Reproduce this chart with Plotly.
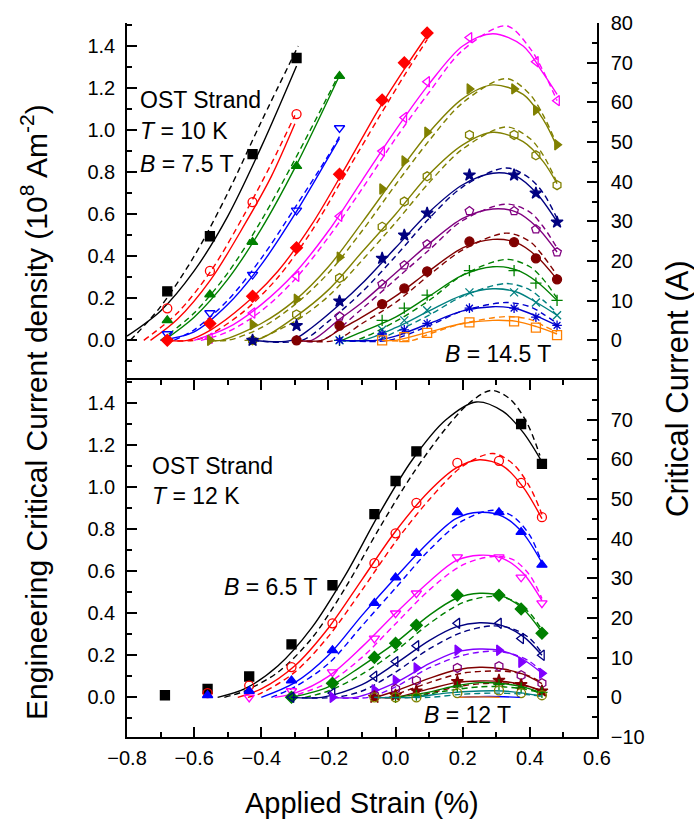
import plotly.graph_objects as go

N = None

# ---------------- T = 10 K (upper panel) ----------------
top_fields = ["7.5", "8.0", "8.5", "9.0", "9.5", "10.0", "10.5", "11.0",
              "11.5", "12.0", "12.5", "13.0", "13.5", "14.0", "14.5"]
top_strain = [-0.68, -0.553, -0.426, -0.295, -0.167, -0.04, 0.026, 0.094,
              0.22, 0.353, 0.418, 0.481]
top_jc = [
    [0.233, 0.495, 0.886, 1.343, N, N, N, N, N, N, N, N],
    [0.152, 0.33, 0.657, 1.076, N, N, N, N, N, N, N, N],
    [0.095, 0.218, 0.467, 0.829, 1.257, N, N, N, N, N, N, N],
    [0.03, 0.13, 0.313, 0.618, 1.01, N, N, N, N, N, N, N],
    [0.0, 0.08, 0.21, 0.44, 0.79, 1.143, 1.32, 1.462, N, N, N, N],
    [N, 0.01, 0.13, 0.305, 0.59, 0.90, 1.06, 1.23, 1.44, N, 1.325, 1.14],
    [N, 0.0, 0.075, 0.195, 0.395, 0.72, 0.853, 0.99, 1.196, 1.196, 1.095, 0.93],
    [N, N, 0.0, 0.123, 0.296, 0.54, 0.66, 0.78, 0.977, 0.977, 0.88, 0.738],
    [N, N, 0.0, 0.07, 0.186, 0.39, 0.50, 0.605, 0.786, 0.786, 0.70, 0.562],
    [N, N, N, 0.0, 0.114, 0.267, 0.357, 0.457, 0.615, 0.615, 0.528, 0.419],
    [N, N, N, 0.0, 0.07, 0.172, 0.247, 0.328, 0.47, 0.467, 0.39, 0.29],
    [N, N, N, N, 0.0, 0.095, 0.153, 0.215, 0.332, 0.332, 0.272, 0.19],
    [N, N, N, N, 0.0, 0.05, 0.095, 0.143, 0.228, 0.228, 0.18, 0.119],
    [N, N, N, N, 0.0, 0.03, 0.05, 0.08, 0.153, 0.153, 0.11, 0.071],
    [N, N, N, N, N, 0.0, 0.015, 0.035, 0.085, 0.09, 0.06, 0.025],
]
# fitted curves (solid) : strain nodes and Je values
top_fit_s = [
    [-0.80, -0.70, -0.60, -0.50, -0.40, -0.295],
    [-0.73, -0.65, -0.55, -0.45, -0.37, -0.30],
    [-0.69, -0.60, -0.50, -0.40, -0.30, -0.167],
    [-0.70, -0.60, -0.50, -0.40, -0.30, -0.20, -0.167],
    [-0.68, -0.62, -0.55, -0.45, -0.35, -0.25, -0.15, -0.05, 0.03, 0.094],
    [-0.60, -0.50, -0.40, -0.30, -0.20, -0.10, 0.0, 0.10, 0.20, 0.29, 0.38, 0.44, 0.481],
    [-0.553, -0.52, -0.40, -0.30, -0.20, -0.10, 0.0, 0.10, 0.20, 0.29, 0.38, 0.44, 0.481],
    [-0.45, -0.40, -0.30, -0.20, -0.10, 0.0, 0.10, 0.20, 0.29, 0.38, 0.44, 0.481],
    [-0.426, -0.31, -0.25, -0.167, -0.10, 0.0, 0.10, 0.20, 0.29, 0.36, 0.42, 0.481],
    [-0.295, -0.25, -0.167, -0.10, 0.0, 0.10, 0.20, 0.29, 0.36, 0.42, 0.481],
    [-0.295, -0.22, -0.167, -0.10, 0.0, 0.10, 0.20, 0.29, 0.36, 0.42, 0.481],
    [-0.16, -0.10, 0.0, 0.10, 0.20, 0.29, 0.36, 0.42, 0.481],
    [-0.167, -0.10, 0.0, 0.10, 0.20, 0.29, 0.36, 0.42, 0.481],
    [-0.167, -0.06, 0.0, 0.10, 0.20, 0.29, 0.36, 0.42, 0.481],
    [-0.04, 0.0, 0.10, 0.20, 0.29, 0.36, 0.42, 0.481],
]
top_fit_j = [
    [0.02, 0.14, 0.33, 0.59, 0.92, 1.305],
    [0.0, 0.10, 0.29, 0.55, 0.78, 1.03],
    [0.0, 0.11, 0.29, 0.53, 0.82, 1.26],
    [0.0, 0.04, 0.17, 0.36, 0.60, 0.87, 0.96],
    [0.0, 0.0, 0.05, 0.17, 0.33, 0.55, 0.82, 1.10, 1.30, 1.45],
    [0.0, 0.06, 0.17, 0.32, 0.52, 0.76, 1.00, 1.22, 1.40, 1.458, 1.40, 1.27, 1.17],
    [0.0, 0.0, 0.08, 0.19, 0.35, 0.56, 0.78, 0.99, 1.15, 1.215, 1.17, 1.05, 0.92],
    [0.0, 0.01, 0.11, 0.24, 0.42, 0.60, 0.79, 0.93, 0.99, 0.945, 0.85, 0.745],
    [0.0, 0.0, 0.06, 0.17, 0.27, 0.44, 0.61, 0.74, 0.795, 0.78, 0.70, 0.565],
    [0.0, 0.0, 0.10, 0.18, 0.32, 0.46, 0.58, 0.625, 0.61, 0.54, 0.42],
    [0.0, 0.0, 0.05, 0.11, 0.21, 0.33, 0.44, 0.48, 0.465, 0.40, 0.29],
    [0.0, 0.04, 0.11, 0.21, 0.31, 0.35, 0.335, 0.28, 0.19],
    [0.0, 0.0, 0.06, 0.14, 0.215, 0.245, 0.23, 0.18, 0.12],
    [0.0, 0.0, 0.02, 0.08, 0.14, 0.16, 0.15, 0.115, 0.07],
    [0.0, 0.0, 0.04, 0.08, 0.095, 0.09, 0.065, 0.03],
]
# alternative fit (dashed)
top_alt_s = [
    [-0.79, -0.70, -0.60, -0.50, -0.40, -0.29],
    [-0.75, -0.65, -0.55, -0.45, -0.37, -0.30],
    [-0.70, -0.60, -0.50, -0.40, -0.30, -0.167],
    [-0.66, -0.60, -0.50, -0.40, -0.30, -0.20, -0.167],
    [-0.68, -0.60, -0.55, -0.45, -0.35, -0.25, -0.15, -0.05, 0.03, 0.094],
    [-0.58, -0.50, -0.40, -0.30, -0.20, -0.10, 0.0, 0.10, 0.20, 0.33, 0.40, 0.44, 0.481],
    [-0.553, -0.50, -0.40, -0.30, -0.20, -0.10, 0.0, 0.10, 0.20, 0.33, 0.40, 0.44, 0.481],
    [-0.426, -0.42, -0.30, -0.20, -0.10, 0.0, 0.10, 0.20, 0.33, 0.40, 0.44, 0.481],
    [-0.426, -0.28, -0.20, -0.10, 0.0, 0.10, 0.20, 0.33, 0.40, 0.44, 0.481],
    [-0.295, -0.22, -0.10, 0.0, 0.10, 0.20, 0.33, 0.40, 0.44, 0.481],
    [-0.295, -0.18, -0.10, 0.0, 0.10, 0.20, 0.33, 0.40, 0.44, 0.481],
    [-0.167, -0.12, 0.0, 0.10, 0.20, 0.33, 0.40, 0.44, 0.481],
    [-0.167, -0.06, 0.0, 0.10, 0.20, 0.33, 0.40, 0.44, 0.481],
    [-0.167, -0.02, 0.10, 0.20, 0.33, 0.40, 0.44, 0.481],
    [-0.04, 0.05, 0.10, 0.20, 0.33, 0.40, 0.44, 0.481],
]
top_alt_j = [
    [0.0, 0.16, 0.40, 0.70, 1.04, 1.40],
    [0.0, 0.13, 0.33, 0.60, 0.84, 1.07],
    [0.0, 0.13, 0.32, 0.57, 0.86, 1.27],
    [0.0, 0.05, 0.19, 0.39, 0.63, 0.88, 0.97],
    [0.0, 0.0, 0.03, 0.14, 0.30, 0.52, 0.79, 1.06, 1.27, 1.43],
    [0.0, 0.04, 0.14, 0.29, 0.49, 0.72, 0.96, 1.18, 1.38, 1.496, 1.39, 1.28, 1.14],
    [0.0, 0.0, 0.06, 0.17, 0.32, 0.52, 0.74, 0.95, 1.13, 1.245, 1.17, 1.07, 0.93],
    [0.0, 0.0, 0.09, 0.21, 0.38, 0.56, 0.75, 0.91, 1.015, 0.96, 0.88, 0.75],
    [0.0, 0.0, 0.09, 0.23, 0.40, 0.58, 0.73, 0.82, 0.77, 0.70, 0.58],
    [0.0, 0.0, 0.15, 0.29, 0.43, 0.57, 0.648, 0.61, 0.54, 0.44],
    [0.0, 0.0, 0.08, 0.18, 0.31, 0.43, 0.51, 0.47, 0.40, 0.31],
    [0.0, 0.0, 0.09, 0.19, 0.31, 0.385, 0.35, 0.29, 0.20],
    [0.0, 0.0, 0.04, 0.12, 0.21, 0.27, 0.24, 0.19, 0.13],
    [0.0, 0.0, 0.07, 0.14, 0.18, 0.16, 0.125, 0.08],
    [0.0, 0.0, 0.03, 0.08, 0.113, 0.10, 0.07, 0.04],
]
top_colors = ["#000000", "#FF0000", "#008000", "#0000FF", "#FF0000", "#FF00FF",
              "#808000", "#808000", "#000080", "#800080", "#800000", "#008000",
              "#008080", "#0000CD", "#FF8000"]
top_marker_colors = top_colors
top_symbols = ["square", "circle-open", "triangle-up", "triangle-down-open",
               "diamond", "triangle-left-open", "triangle-right", "hexagon-open",
               "star", "pentagon-open", "circle", "cross-thin-open",
               "x-thin-open", "asterisk-open", "square-open"]

# ---------------- T = 12 K (lower panel) ----------------
bot_fields = ["6.5", "7.0", "7.5", "8.0", "8.5", "9.0", "9.5", "10.0",
              "10.5", "11.0", "11.5", "12.0", "12.0 "]
bot_strain = [-0.687, -0.56, -0.436, -0.31, -0.188, -0.063, 0.0, 0.062,
              0.184, 0.308, 0.374, 0.436]
bot_jc = [
    [0.01, 0.04, 0.099, 0.252, 0.533, 0.871, 1.029, 1.17, N, N, 1.30, 1.11],
    [N, 0.02, 0.056, 0.144, 0.352, 0.638, 0.78, 0.925, 1.115, 1.125, 1.02, 0.857],
    [N, 0.01, 0.03, 0.08, 0.224, 0.448, 0.57, 0.686, 0.88, 0.88, 0.786, 0.63],
    [N, N, 0.0, 0.03, 0.12, 0.28, 0.40, 0.495, 0.667, 0.667, 0.571, 0.448],
    [N, N, N, 0.0, 0.067, 0.19, 0.257, 0.343, 0.486, 0.486, 0.42, 0.305],
    [N, N, N, 0.0, 0.02, 0.10, 0.17, 0.245, 0.352, 0.352, 0.28, 0.20],
    [N, N, N, N, 0.0, 0.035, 0.08, 0.14, 0.224, 0.224, 0.167, 0.114],
    [N, N, N, N, N, 0.01, 0.04, 0.08, 0.14, 0.148, 0.105, 0.067],
    [N, N, N, N, N, 0.0, 0.01, 0.03, 0.075, 0.081, 0.06, 0.03],
    [N, N, N, N, N, N, 0.0, 0.01, 0.05, 0.06, 0.045, 0.024],
    [N, N, N, N, N, 0.0, 0.0, 0.0, 0.02, 0.033, 0.02, 0.01],
    [N] * 12,
    [N] * 12,
]
bot_fit_s = [
    [-0.53, -0.45, -0.35, -0.25, -0.15, -0.05, 0.05, 0.15, 0.24, 0.32, 0.38, 0.436],
    [-0.47, -0.40, -0.30, -0.20, -0.10, 0.0, 0.10, 0.18, 0.25, 0.32, 0.38, 0.436],
    [-0.40, -0.30, -0.20, -0.10, 0.0, 0.10, 0.18, 0.25, 0.32, 0.38, 0.436],
    [-0.36, -0.30, -0.20, -0.10, 0.0, 0.10, 0.18, 0.25, 0.32, 0.38, 0.436],
    [-0.31, -0.20, -0.10, 0.0, 0.10, 0.18, 0.25, 0.32, 0.38, 0.436],
    [-0.31, -0.22, -0.10, 0.0, 0.10, 0.18, 0.25, 0.32, 0.38, 0.436],
    [-0.188, -0.12, 0.0, 0.10, 0.18, 0.25, 0.32, 0.38, 0.436],
    [-0.06, 0.0, 0.10, 0.18, 0.25, 0.32, 0.38, 0.436],
    [-0.063, 0.0, 0.10, 0.18, 0.25, 0.32, 0.38, 0.436],
    [0.0, 0.10, 0.18, 0.25, 0.32, 0.38, 0.436],
    [-0.063, 0.05, 0.15, 0.25, 0.32, 0.38, 0.436],
    [0.19, 0.28, 0.37],
    [0.19, 0.25, 0.31],
]
bot_fit_j = [
    [0.0, 0.04, 0.15, 0.33, 0.58, 0.87, 1.13, 1.32, 1.405, 1.36, 1.26, 1.12],
    [0.0, 0.04, 0.15, 0.33, 0.56, 0.79, 0.98, 1.09, 1.13, 1.10, 1.00, 0.85],
    [0.0, 0.07, 0.20, 0.39, 0.57, 0.74, 0.85, 0.88, 0.86, 0.78, 0.64],
    [0.0, 0.02, 0.10, 0.24, 0.40, 0.55, 0.65, 0.676, 0.66, 0.59, 0.46],
    [0.0, 0.05, 0.15, 0.26, 0.39, 0.47, 0.495, 0.48, 0.42, 0.31],
    [0.0, 0.0, 0.06, 0.16, 0.27, 0.335, 0.355, 0.34, 0.29, 0.20],
    [0.0, 0.0, 0.07, 0.16, 0.215, 0.23, 0.22, 0.18, 0.115],
    [0.0, 0.03, 0.09, 0.13, 0.143, 0.135, 0.11, 0.065],
    [0.0, 0.0, 0.04, 0.07, 0.078, 0.075, 0.06, 0.03],
    [0.0, 0.025, 0.055, 0.07, 0.065, 0.05, 0.02],
    [0.0, 0.0, 0.02, 0.03, 0.03, 0.02, 0.005],
    [0.0, 0.004, 0.0],
    [0.0, 0.002, 0.0],
]
bot_alt_s = [
    [-0.51, -0.45, -0.35, -0.25, -0.15, -0.05, 0.05, 0.15, 0.22, 0.285, 0.34, 0.39, 0.43],
    [-0.44, -0.40, -0.30, -0.20, -0.10, 0.0, 0.10, 0.20, 0.29, 0.35, 0.40, 0.436],
    [-0.37, -0.30, -0.20, -0.10, 0.0, 0.10, 0.20, 0.29, 0.35, 0.40, 0.436],
    [-0.32, -0.20, -0.10, 0.0, 0.10, 0.20, 0.29, 0.35, 0.40, 0.436],
    [-0.27, -0.20, -0.10, 0.0, 0.10, 0.20, 0.29, 0.35, 0.40, 0.436],
    [-0.31, -0.18, -0.10, 0.0, 0.10, 0.20, 0.29, 0.35, 0.40, 0.436],
    [-0.188, -0.08, 0.0, 0.10, 0.20, 0.29, 0.35, 0.40, 0.436],
    [-0.02, 0.10, 0.20, 0.29, 0.35, 0.40, 0.436],
    [-0.063, 0.04, 0.10, 0.20, 0.29, 0.35, 0.40, 0.436],
    [0.05, 0.15, 0.25, 0.32, 0.38, 0.436],
    [-0.063, 0.10, 0.20, 0.30, 0.38, 0.436],
    [],
    [],
]
bot_alt_j = [
    [0.0, 0.03, 0.12, 0.28, 0.52, 0.80, 1.06, 1.28, 1.40, 1.46, 1.42, 1.31, 1.15],
    [0.0, 0.02, 0.12, 0.29, 0.51, 0.74, 0.94, 1.10, 1.16, 1.11, 1.00, 0.87],
    [0.0, 0.05, 0.16, 0.34, 0.52, 0.70, 0.84, 0.89, 0.86, 0.77, 0.64],
    [0.0, 0.07, 0.19, 0.35, 0.51, 0.63, 0.67, 0.655, 0.58, 0.47],
    [0.0, 0.03, 0.11, 0.22, 0.35, 0.45, 0.48, 0.46, 0.40, 0.32],
    [0.0, 0.0, 0.03, 0.12, 0.23, 0.31, 0.34, 0.325, 0.28, 0.21],
    [0.0, 0.0, 0.05, 0.14, 0.20, 0.22, 0.205, 0.17, 0.12],
    [0.0, 0.07, 0.115, 0.125, 0.12, 0.10, 0.07],
    [0.0, 0.0, 0.02, 0.055, 0.068, 0.065, 0.05, 0.03],
    [0.0, 0.03, 0.05, 0.05, 0.04, 0.02],
    [0.0, 0.0, 0.015, 0.02, 0.015, 0.005],
    [],
    [],
]
bot_colors = ["#000000", "#FF0000", "#0000FF", "#FF00FF", "#008000", "#000080",
              "#8000FF", "#800000", "#800000", "#008000", "#008080", "#0000FF",
              "#FF8000"]
bot_marker_colors = ["#000000", "#FF0000", "#0000FF", "#FF00FF", "#008000",
                     "#000080", "#8000FF", "#800080", "#800000", "#008000",
                     "#808000", "#0000FF", "#FF8000"]
bot_symbols = ["square", "circle-open", "triangle-up", "triangle-down-open",
               "diamond", "triangle-left-open", "triangle-right", "hexagon-open",
               "star", "cross-thin-open", "circle-open", "circle", "circle"]

# ---------------- figure ----------------
W, H = 694, 823
L, R, T, B = 127, 597, 21, 737
FONT = "Liberation Sans, Arial, Helvetica, sans-serif"
JE_RANGE = [-0.1887, 1.5094]
IC_RANGE = [-10, 80]


def px(x):
    return (x - L) / (R - L)


def py(y):
    return (B - y) / (B - T)


fig = go.Figure()


def add_panel(fields, strain, jc, fs, fj, als, alj, colors, mcolors, symbols, yax):
    for i, name in enumerate(fields):
        c = colors[i]
        if als[i]:
            fig.add_trace(go.Scatter(
                x=als[i], y=alj[i], mode="lines", yaxis=yax, xaxis="x",
                line=dict(color=c, width=1.4, dash="6px,4px", shape="spline",
                          smoothing=0.9),
                showlegend=False, hoverinfo="skip"))
        fig.add_trace(go.Scatter(
            x=fs[i], y=fj[i], mode="lines", yaxis=yax, xaxis="x",
            line=dict(color=c, width=1.4, shape="spline", smoothing=0.9),
            showlegend=False, hoverinfo="skip"))
        pts = [(s, v) for s, v in zip(strain, jc[i]) if v is not None]
        if pts:
            sym = symbols[i]
            size = 8 if ("thin" in sym or "asterisk" in sym) else 9
            fig.add_trace(go.Scatter(
                x=[p[0] for p in pts], y=[p[1] for p in pts], mode="markers",
                yaxis=yax, xaxis="x", name=name + " T",
                marker=dict(symbol=sym, size=size, color=mcolors[i],
                            line=dict(color=mcolors[i], width=1.3)),
                showlegend=False, cliponaxis=False))


add_panel(top_fields, top_strain, top_jc, top_fit_s, top_fit_j, top_alt_s,
          top_alt_j, top_colors, top_marker_colors, top_symbols, "y2")
add_panel(bot_fields, bot_strain, bot_jc, bot_fit_s, bot_fit_j, bot_alt_s,
          bot_alt_j, bot_colors, bot_marker_colors, bot_symbols, "y")

# the current scale on the right (invisible anchor points)
for yax in ("y3", "y4"):
    fig.add_trace(go.Scatter(x=[0], y=[0], yaxis=yax, xaxis="x", mode="markers",
                             marker=dict(opacity=0), showlegend=False,
                             hoverinfo="skip"))

tickfont = dict(family=FONT, size=20, color="black")
common_ax = dict(showline=True, linecolor="black", linewidth=1.5, ticks="inside",
                 ticklen=10, tickwidth=1.5, tickcolor="black", showgrid=False,
                 zeroline=False, tickfont=tickfont)
minor_x = dict(dtick=0.1, ticks="inside", ticklen=5, tickwidth=1.5,
               tickcolor="black", showgrid=False)
left_ticks = [0, 0.2, 0.4, 0.6, 0.8, 1.0, 1.2, 1.4]
left_text = ["0.0", "0.2", "0.4", "0.6", "0.8", "1.0", "1.2", "1.4"]
left_minor = dict(tickvals=[-0.1, 0.1, 0.3, 0.5, 0.7, 0.9, 1.1, 1.3, 1.5],
                  ticks="inside", ticklen=5, tickwidth=1.5, tickcolor="black")
right_minor = dict(tickvals=[-5, 5, 15, 25, 35, 45, 55, 65, 75],
                   ticks="inside", ticklen=5, tickwidth=1.5, tickcolor="black")

fig.update_layout(
    width=W, height=H,
    margin=dict(l=L, r=W - R, t=T, b=H - B),
    paper_bgcolor="white", plot_bgcolor="white",
    font=dict(family=FONT, color="black"),
    showlegend=False,
    xaxis=dict(domain=[0, 1], anchor="y", range=[-0.8, 0.6], dtick=0.2,
               tick0=-0.8, tickformat=".1f", mirror="ticks",
               ticklabelstandoff=2, minor=minor_x, **common_ax),
    xaxis2=dict(domain=[0, 1], anchor="y2", range=[-0.8, 0.6], dtick=0.2,
                tick0=-0.8, matches="x", showticklabels=False, mirror="ticks",
                minor=minor_x, **common_ax),
    yaxis=dict(domain=[0, 0.5], anchor="x", range=JE_RANGE,
               tickvals=left_ticks, ticktext=left_text, ticklabelstandoff=6,
               minor=left_minor, **common_ax),
    yaxis2=dict(domain=[0.5, 1], anchor="x2", range=JE_RANGE,
                tickvals=left_ticks, ticktext=left_text, ticklabelstandoff=6,
                minor=left_minor, **common_ax),
    yaxis3=dict(overlaying="y", side="right", anchor="x", range=IC_RANGE,
                tickvals=[-10, 0, 10, 20, 30, 40, 50, 60, 70],
                ticklabelstandoff=8, minor=right_minor, **common_ax),
    yaxis4=dict(overlaying="y2", side="right", anchor="x2", range=IC_RANGE,
                tickvals=[0, 10, 20, 30, 40, 50, 60, 70, 80],
                ticklabelstandoff=8, minor=right_minor, **common_ax),
)

ann_font = dict(family=FONT, size=23, color="black")
notes = [
    ("OST Strand", 138, 98, "left"),
    ("<i>T</i> = 10 K", 138, 129, "left"),
    ("<i>B</i> = 7.5 T", 138, 162, "left"),
    ("<i>B</i> = 14.5 T", 553, 353, "right"),
    ("OST Strand", 150, 465, "left"),
    ("<i>T</i> = 12 K", 150, 495, "left"),
    ("<i>B</i> = 6.5 T", 222, 587, "left"),
    ("<i>B</i> = 12 T", 513, 715, "right"),
]
for text, x, y, anchor in notes:
    fig.add_annotation(text=text, x=px(x), y=py(y), xref="paper", yref="paper",
                       xanchor=anchor, yanchor="middle", showarrow=False,
                       font=ann_font)

fig.add_annotation(text="Applied Strain (%)", x=px(362), y=py(803),
                   xref="paper", yref="paper", xanchor="center",
                   yanchor="middle", showarrow=False,
                   font=dict(family=FONT, size=29, color="black"))
fig.add_annotation(
    text="Engineering Critical Current density (10<sup>8</sup> Am<sup>-2</sup>)",
    x=px(34), y=py(411), xref="paper", yref="paper", xanchor="center",
    yanchor="middle", textangle=-90, showarrow=False,
    font=dict(family=FONT, size=30, color="black"))
fig.add_annotation(text="Critical Current (A)", x=px(678), y=py(388),
                   xref="paper", yref="paper", xanchor="center",
                   yanchor="middle", textangle=-90, showarrow=False,
                   font=dict(family=FONT, size=31, color="black"))

fig.write_html("out.html")
